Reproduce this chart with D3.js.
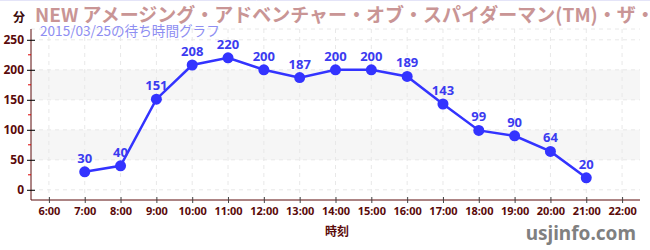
<!DOCTYPE html>
<html><head><meta charset="utf-8">
<script src="https://cdn.jsdelivr.net/npm/d3@7"></script>
<style>body{margin:0;background:#fff;}svg{display:block;font-family:"Noto Sans CJK JP","Noto Sans",sans-serif;}</style>
</head><body>
<svg id="c" width="650" height="250"></svg>
<script>
const hours = [7,8,9,10,11,12,13,14,15,16,17,18,19,20,21];
const waits = [30,40,151,208,220,200,187,200,200,189,143,99,90,64,20];
const xTicks = [6,7,8,9,10,11,12,13,14,15,16,17,18,19,20,21,22];
const yTicks = [0,50,100,150,200,250];
const yMinor = [25,75,125,175,225];
const bands = [[50,100],[150,200]];
const title = "NEW アメージング・アドベンチャー・オブ・スパイダーマン(TM)・ザ・ライド 4K3D";
const subtitle = "2015/03/25の待ち時間グラフ";

const svg = d3.select("#c");
const x = d3.scaleLinear().domain([5.5,22.5]).range([31,640]);
const y = d3.scaleLinear().domain([-17,268]).range([200,29]);
const axisCol = "#5a0a0a";

svg.append("line").attr("x1",0).attr("x2",650).attr("y1",0.5).attr("y2",0.5).attr("stroke","#e4e4f8");

// bands
svg.selectAll(".band").data(bands).join("rect")
  .attr("x",x(5.5)).attr("width",x(22.5)-x(5.5))
  .attr("y",d=>y(d[1])).attr("height",d=>y(d[0])-y(d[1]))
  .attr("fill","#f6f6f6");
// grid
svg.selectAll(".vg").data(xTicks).join("line")
  .attr("x1",d=>x(d)).attr("x2",d=>x(d)).attr("y1",y(268)).attr("y2",y(-17))
  .attr("stroke","#e8e8e8").attr("stroke-dasharray","4,4");
svg.selectAll(".hg").data(yTicks.concat([268])).join("line")
  .attr("x1",x(5.5)).attr("x2",x(22.5)).attr("y1",d=>y(d)).attr("y2",d=>y(d))
  .attr("stroke","#e8e8e8").attr("stroke-dasharray","4,4");

// y axis
const ya = svg.append("g").attr("transform",`translate(${x(5.5)},0)`)
  .call(d3.axisLeft(y).tickValues(yTicks).tickSize(4).tickPadding(3));
ya.select(".domain").attr("stroke",axisCol).attr("d",`M0,${y(268)}V${y(-17)}`);
ya.selectAll(".tick line").attr("stroke","#000").attr("x1",4).attr("x2",-4);
ya.selectAll("text").attr("fill",axisCol).attr("font-size",12).attr("font-weight","bold")
  .attr("font-family","'Noto Sans',sans-serif");
svg.selectAll(".ym").data(yMinor).join("line")
  .attr("x1",x(5.5)-3).attr("x2",x(5.5)).attr("y1",d=>y(d)).attr("y2",d=>y(d))
  .attr("stroke","#d00");

// x axis
const xa = svg.append("g").attr("transform",`translate(0,${y(-17)})`)
  .call(d3.axisBottom(x).tickValues(xTicks).tickFormat(d=>d+":00").tickSize(3).tickPadding(4));
xa.select(".domain").attr("stroke",axisCol).attr("d",`M${x(5.5)},0H${x(22.5)}`);
xa.selectAll(".tick line").attr("stroke","#444").attr("y1",-3).attr("y2",3);
xa.selectAll("text").attr("fill",axisCol).attr("font-size",11).attr("font-weight","bold")
  .attr("font-family","'Noto Sans',sans-serif");

// line
svg.append("path").datum(hours.map((h,i)=>[h,waits[i]]))
  .attr("fill","none").attr("stroke","#3333ff").attr("stroke-width",2.5)
  .attr("d",d3.line().x(d=>x(d[0])).y(d=>y(d[1])));
svg.selectAll(".pt").data(hours).join("circle")
  .attr("cx",d=>x(d)).attr("cy",(d,i)=>y(waits[i])).attr("r",5.5).attr("fill","#3333ff");
svg.selectAll(".lb").data(hours).join("text")
  .attr("x",d=>x(d)).attr("y",(d,i)=>y(waits[i])-9).attr("text-anchor","middle")
  .attr("fill","#3b3bf0").attr("font-size",13).attr("font-weight","bold")
  .attr("font-family","'Noto Sans',sans-serif")
  .text((d,i)=>waits[i]);

// texts
svg.append("text").attr("x",13).attr("y",22).attr("font-size",12).attr("font-weight","bold")
  .attr("fill","#3a0a0a").text("分");
svg.append("text").attr("x",35).attr("y",22).attr("font-size",19).attr("font-weight","bold")
  .attr("fill","#c99595").text(title);
svg.append("text").attr("x",40).attr("y",36).attr("font-size",13.6)
  .attr("fill","#8e8ef2").text(subtitle);
svg.append("text").attr("x",337).attr("y",236).attr("text-anchor","middle").attr("font-size",12)
  .attr("font-weight","bold").attr("fill","#5a0a0a").text("時刻");
svg.append("text").attr("x",636).attr("y",240).attr("text-anchor","end").attr("font-size",19)
  .attr("font-weight","bold").attr("fill","#808080").attr("font-family","'Noto Sans',sans-serif").text("usjinfo.com");
</script>
</body></html>
